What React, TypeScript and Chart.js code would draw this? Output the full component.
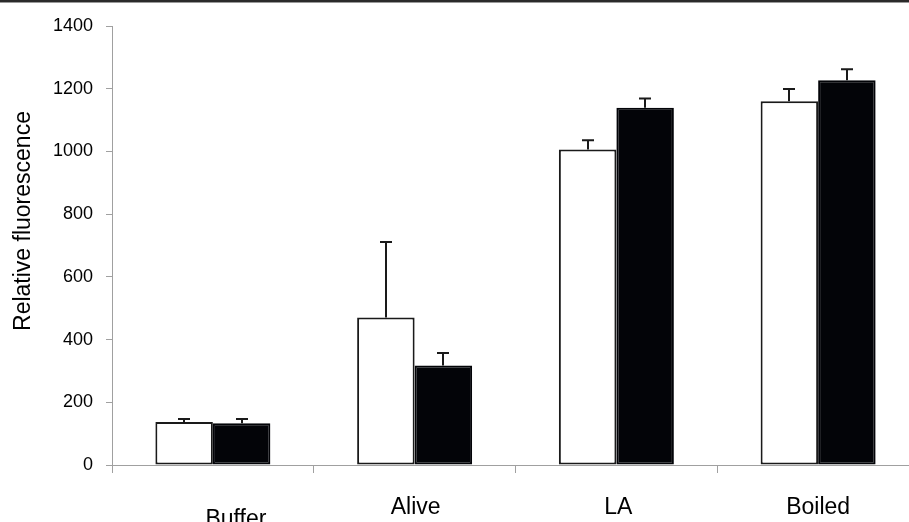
import React, { useEffect, useRef } from "react";
import { Chart, registerables } from "chart.js";

Chart.register(...registerables);

const categories = ["Buffer", "Alive", "LA", "Boiled"];
const whiteValues = [137, 470, 1006, 1160];
const whiteErrors = [10, 241, 30, 39];
const blackValues = [133, 317, 1139, 1227];
const blackErrors = [14, 40, 30, 35];
const yMin = 0;
const yMax = 1400;
const yStep = 200;
const yTitle = "Relative fluorescence";

// label placement tweaks (layout only)
const labelDx = [23, 1, 2, 0];
const labelBaseline = [526, 514, 514, 514];

const FONT = "'Liberation Sans', Arial, sans-serif";

const errorBarPlugin = {
  id: "errorBars",
  afterDatasetsDraw(chart: any) {
    const ctx = chart.ctx;
    const yScale = chart.scales.y;
    const errs = [whiteErrors, blackErrors];
    ctx.save();
    ctx.strokeStyle = "#1a1a1a";
    ctx.lineWidth = 2;
    chart.data.datasets.forEach((ds: any, di: number) => {
      const meta = chart.getDatasetMeta(di);
      meta.data.forEach((bar: any, i: number) => {
        const v = ds.data[i];
        const top = yScale.getPixelForValue(v + errs[di][i]);
        const x = Math.round(bar.x);
        ctx.beginPath();
        ctx.moveTo(x, bar.y);
        ctx.lineTo(x, top);
        ctx.moveTo(x - 6, top);
        ctx.lineTo(x + 6, top);
        ctx.stroke();
      });
    });
    ctx.restore();
  },
  afterDraw(chart: any) {
    const ctx = chart.ctx;
    const xScale = chart.scales.x;
    ctx.save();
    ctx.fillStyle = "#000";
    ctx.font = `23px ${FONT}`;
    ctx.textAlign = "center";
    ctx.textBaseline = "alphabetic";
    categories.forEach((c, i) => {
      const x = xScale.getPixelForValue(i) + labelDx[i];
      ctx.fillText(c, x, labelBaseline[i]);
    });
    ctx.translate(30, 221);
    ctx.rotate(-Math.PI / 2);
    ctx.fillText(yTitle, 0, 0);
    ctx.restore();
  },
};

export default function App() {
  const ref = useRef<HTMLCanvasElement | null>(null);
  useEffect(() => {
    if (!ref.current) return;
    const chart = new Chart(ref.current, {
      type: "bar",
      data: {
        labels: categories,
        datasets: [
          {
            data: whiteValues,
            backgroundColor: "#ffffff",
            borderColor: "#1a1a1a",
            borderWidth: 2,
            borderSkipped: false,
            barPercentage: 1,
            categoryPercentage: 0.57,
          },
          {
            data: blackValues,
            backgroundColor: "#030408",
            borderColor: "#030408",
            borderWidth: 2,
            borderSkipped: false,
            barPercentage: 1,
            categoryPercentage: 0.57,
          },
        ],
      },
      options: {
        responsive: false,
        animation: false,
        layout: { padding: { top: 26, left: 0, right: 0, bottom: 0 } },
        plugins: {
          legend: { display: false },
          tooltip: { enabled: false },
          title: { display: false },
        },
        scales: {
          x: {
            type: "category",
            grid: {
              display: true,
              drawOnChartArea: false,
              drawTicks: true,
              tickLength: 8,
              offset: true,
              color: "#a0a0a0",
            },
            border: { display: true, color: "#a0a0a0", width: 1 },
            ticks: { display: false },
            afterFit(scale: any) {
              scale.height = 57;
            },
          },
          y: {
            min: yMin,
            max: yMax,
            ticks: {
              stepSize: yStep,
              padding: 13,
              color: "#000",
              font: { family: FONT, size: 18 },
              callback: (v: any) => String(v),
            },
            grid: {
              display: true,
              drawOnChartArea: false,
              drawTicks: true,
              tickLength: 6,
              color: "#a0a0a0",
            },
            border: { display: true, color: "#a0a0a0", width: 1 },
            afterFit(scale: any) {
              scale.width = 112;
            },
          },
        },
      },
      plugins: [errorBarPlugin],
    } as any);
    return () => chart.destroy();
  }, []);

  return (
    <div
      style={{
        position: "absolute",
        left: 0,
        top: 0,
        width: 909,
        height: 522,
        overflow: "hidden",
        background: "#fff",
      }}
    >
      <canvas ref={ref} width={919} height={522} style={{ display: "block" }} />
      <div
        style={{
          position: "absolute",
          left: 0,
          top: 0,
          width: 909,
          height: 2,
          background: "#2a2a2a",
          borderBottom: "1px solid #999",
        }}
      />
    </div>
  );
}
